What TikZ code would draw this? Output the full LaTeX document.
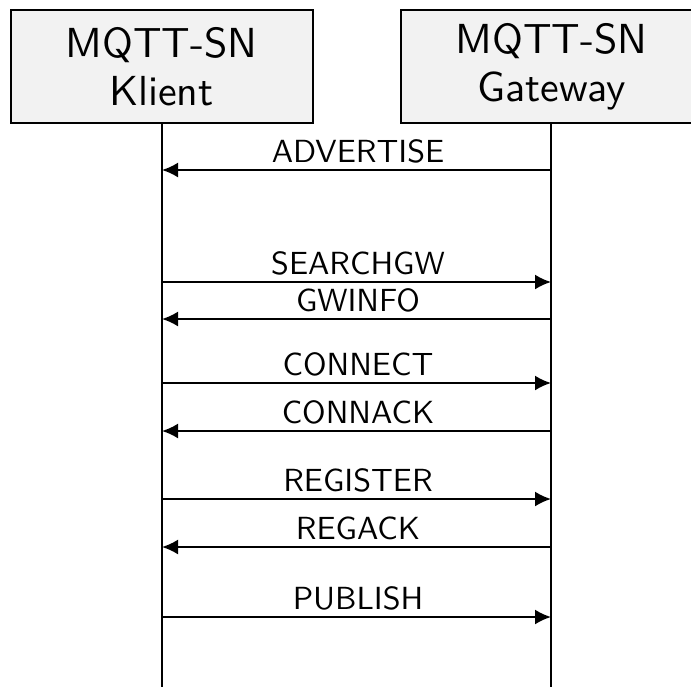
\documentclass[tikz,border=0pt]{standalone}
\usepackage{fontspec}
\newfontfamily\lmsten{lmsans10-regular.otf}
\usetikzlibrary{arrows.meta}
\begin{document}
\begin{tikzpicture}[x=1pt,y=-1pt,
  actor/.style={draw=black,line width=2pt,fill=black!5,minimum width=302pt,minimum height=113pt,inner sep=0pt,align=center,font=\lmsten\fontsize{42}{48}\selectfont},
  life/.style={line width=2pt},
  msg/.style={line width=2pt,-{Latex[length=16pt,width=15pt]}},
  lbl/.style={font=\lmsten\fontsize{32}{36}\selectfont,inner sep=0pt,anchor=base}]
\useasboundingbox (0,0) rectangle (691,686);
\node[actor] (cl) at (161.5,66.5) {MQTT-SN\\Klient};
\node[actor] (gw) at (551.5,66.5) {MQTT-SN\\Gateway};
\coordinate (clend) at (162,688);
\coordinate (gwend) at (551,688);
\draw[life] (cl.south -| clend) -- (clend);
\draw[life] (gw.south -| gwend) -- (gwend);
\foreach \n/\y in {a/170,b/282,c/319,d/383,e/431,f/499,g/547,h/617}{
  \coordinate (L\n) at (162,\y);
  \coordinate (R\n) at (551,\y);
}
\draw[msg] (Ra) -- (La) node[lbl,pos=0.5,xshift=1.5pt,yshift=8pt] (ta) {ADVERTISE};
\draw[msg] (Lb) -- (Rb) node[lbl,pos=0.5,xshift=1.5pt,yshift=8pt] (tb) {SEARCHGW};
\draw[msg] (Rc) -- (Lc) node[lbl,pos=0.5,xshift=1.5pt,yshift=8pt] (tc) {GWINFO};
\draw[msg] (Ld) -- (Rd) node[lbl,pos=0.5,xshift=1.5pt,yshift=8pt] (td) {CONNECT};
\draw[msg] (Re) -- (Le) node[lbl,pos=0.5,xshift=1.5pt,yshift=8pt] (te) {CONNACK};
\draw[msg] (Lf) -- (Rf) node[lbl,pos=0.5,xshift=1.5pt,yshift=8pt] (tf) {REGISTER};
\draw[msg] (Rg) -- (Lg) node[lbl,pos=0.5,xshift=1.5pt,yshift=8pt] (tg) {REGACK};
\draw[msg] (Lh) -- (Rh) node[lbl,pos=0.5,xshift=1.5pt,yshift=8pt] (th) {PUBLISH};
\end{tikzpicture}
\end{document}
